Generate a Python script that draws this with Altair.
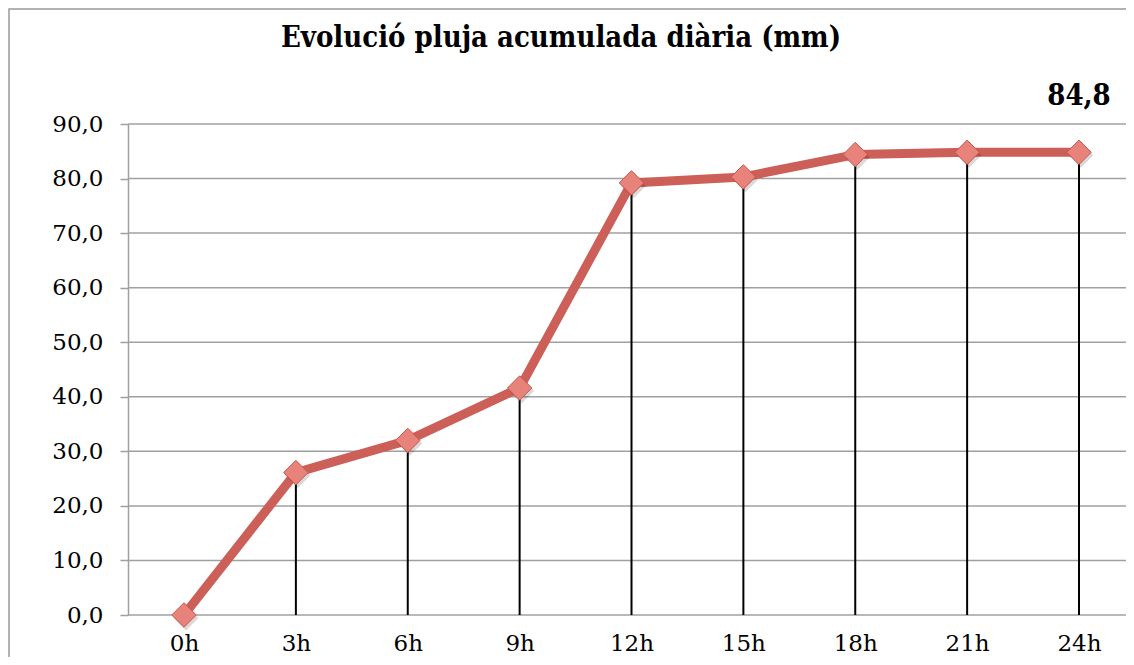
import altair as alt
import pandas as pd

hours = ["0h", "3h", "6h", "9h", "12h", "15h", "18h", "21h", "24h"]
rain = [0.0, 26.1, 32.0, 41.6, 79.2, 80.3, 84.4, 84.8, 84.8]
y_ticks = [0, 10, 20, 30, 40, 50, 60, 70, 80, 90]
title_text = "Evolució pluja acumulada diària (mm)"
final_label = "84,8"

df = pd.DataFrame({"hour": hours, "rain": rain})
df_last = pd.DataFrame({"hour": [hours[-1]], "label": [final_label]})
df_title = pd.DataFrame({"t": [title_text]})
df_grid = pd.DataFrame({"v": y_ticks})

SERIF = "DejaVu Serif Condensed, DejaVu Serif, serif"
LINE_COLOR = "#CC5F57"
GRID = "#A0A0A0"

x_scale = alt.Scale(type="point", range=[56, 951], padding=0)
y_scale = alt.Scale(domain=[0, 90], nice=False, zero=True)

y_axis = alt.Axis(
    values=y_ticks,
    labelExpr="replace(format(datum.value, '.1f'), '.', ',')",
    labelFont="DejaVu Serif", labelFontSize=23, labelColor="#000",
    labelPadding=17, tickSize=8, tickColor=GRID, tickWidth=1.5,
    domainColor=GRID, domainWidth=1.5, grid=False,
)

x_enc = alt.X(
    "hour:N", sort=hours, title=None, scale=x_scale,
    axis=alt.Axis(
        labelAngle=0, ticks=False, tickSize=0, domain=False, grid=False,
        labelFont="DejaVu Serif", labelFontSize=23, labelColor="#000",
        labelPadding=35, labelBaseline="alphabetic",
    ),
)
y_enc = alt.Y("rain:Q", title=None, scale=y_scale, axis=y_axis)

base = alt.Chart(df)

frame = alt.Chart(df_title).mark_rect(
    fill=None, stroke="#999999", strokeWidth=1.5
).encode(
    x=alt.value(-119), x2=alt.value(1300),
    y=alt.value(-115), y2=alt.value(800),
)

grid = alt.Chart(df_grid).mark_rule(color=GRID, strokeWidth=1.5).encode(
    y=alt.Y("v:Q", title=None, scale=y_scale, axis=y_axis),
    x=alt.value(0), x2=alt.value(1010),
)

line = base.mark_line(color=LINE_COLOR, strokeWidth=9, strokeJoin="round").encode(
    x=x_enc, y=y_enc
)

shadow = base.mark_point(
    shape="diamond", size=620, filled=True, color="#000000", opacity=0.15
).encode(x=x_enc, y=y_enc, xOffset=alt.value(2), yOffset=alt.value(3))

points = base.mark_point(
    shape="diamond", size=600, filled=True, fill="#E8837B",
    stroke="#C9544C", strokeWidth=1, opacity=1
).encode(x=x_enc, y=y_enc)

drops = base.mark_rule(color="#000000", strokeWidth=2).encode(
    x=x_enc, y=y_enc, y2=alt.datum(0)
)

last_label = alt.Chart(df_last).mark_text(
    font=SERIF, fontSize=29, fontWeight="bold", color="#000",
    baseline="alphabetic", align="center"
).encode(
    x=alt.X("hour:N", sort=hours, scale=x_scale),
    y=alt.value(-19),
    text="label:N",
)

title = alt.Chart(df_title).mark_text(
    font=SERIF, fontSize=29, fontWeight="bold", color="#000",
    baseline="alphabetic", align="center"
).encode(x=alt.value(433), y=alt.value(-77), text="t:N")

chart = alt.layer(frame, grid, line, drops, shadow, points, last_label, title).properties(
    width=998, height=491,
    autosize=alt.AutoSizeParams(type="none"),
    padding={"left": 120, "top": 116, "right": 0, "bottom": 42},
    background="white",
).configure_view(stroke=None)

chart.save("out.html", embed_options={"renderer": "svg", "actions": False})
